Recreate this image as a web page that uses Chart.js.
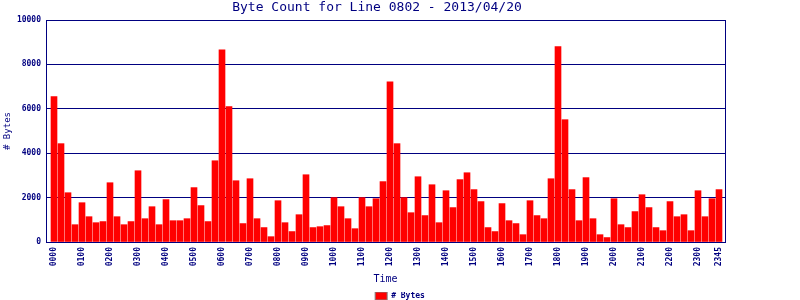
<!DOCTYPE html>
<html>
<head>
<meta charset="utf-8">
<script src="https://cdn.jsdelivr.net/npm/chart.js@4/dist/chart.umd.min.js"></script>
<style>
  html, body { margin: 0; padding: 0; background: #ffffff; }
  #wrap { width: 800px; height: 300px; }
</style>
</head>
<body>
<div id="wrap"><canvas id="c" width="800" height="300"></canvas></div>
<script>
const chartTitle = "Byte Count for Line 0802 - 2013/04/20";
const seriesName = "# Bytes";
const xTitle = "Time";
const yTitle = "# Bytes";

const timeLabels = [
  "0000","0015","0030","0045","0100","0115","0130","0145",
  "0200","0215","0230","0245","0300","0315","0330","0345",
  "0400","0415","0430","0445","0500","0515","0530","0545",
  "0600","0615","0630","0645","0700","0715","0730","0745",
  "0800","0815","0830","0845","0900","0915","0930","0945",
  "1000","1015","1030","1045","1100","1115","1130","1145",
  "1200","1215","1230","1245","1300","1315","1330","1345",
  "1400","1415","1430","1445","1500","1515","1530","1545",
  "1600","1615","1630","1645","1700","1715","1730","1745",
  "1800","1815","1830","1845","1900","1915","1930","1945",
  "2000","2015","2030","2045","2100","2115","2130","2145",
  "2200","2215","2230","2245","2300","2315","2330","2345"
];

const byteCounts = [
  6550, 4430, 2220,  780, 1770, 1140,  870,  920,
  2670, 1140,  780,  920, 3210, 1050, 1590,  780,
  1910,  960,  960, 1050, 2450, 1640,  920, 3660,
  8660, 6100, 2760,  830, 2850, 1050,  650,  240,
  1860,  870,  470, 1230, 3030,  650,  690,  740,
  2000, 1590, 1050,  600, 2000, 1590, 1950, 2720,
  7220, 4430, 2000, 1320, 2940, 1190, 2580,  870,
  2310, 1550, 2810, 3120, 2360, 1820,  650,  470,
  1730,  960,  830,  330, 1860, 1190, 1050, 2850,
  8800, 5510, 2360,  960, 2900, 1050,  330,  200,
  1950,  780,  650, 1370, 2130, 1550,  650,  510,
  1820, 1140, 1230,  510, 2310, 1140, 1950, 2360
];

const xTickLabels = [
  "0000","0100","0200","0300","0400","0500","0600","0700",
  "0800","0900","1000","1100","1200","1300","1400","1500",
  "1600","1700","1800","1900","2000","2100","2200","2300","2345"
];

const yTickValues = [0, 2000, 4000, 6000, 8000, 10000];

const NAVY = "#000080";
const MONO = "'DejaVu Sans Mono', 'Liberation Mono', monospace";

Chart.defaults.font.family = MONO;
Chart.defaults.color = NAVY;

const points = byteCounts.map((v, i) => ({ x: i, y: v }));

const shiftPlugin = {
  id: 'shiftBoxes',
  afterLayout(chart) {
    if (chart.titleBlock) {
      chart.titleBlock.left -= 23;
      chart.titleBlock.right -= 23;
    }
    if (chart.legend) {
      chart.legend.top += 10;
      chart.legend.bottom += 10;
    }
  }
};

new Chart(document.getElementById('c'), {
  type: 'bar',
  data: {
    datasets: [{
      label: seriesName,
      data: points,
      backgroundColor: '#ff0000',
      borderWidth: 0,
      barThickness: 6
    }]
  },
  options: {
    responsive: false,
    devicePixelRatio: 1,
    animation: false,
    layout: { padding: 0 },
    plugins: {
      title: {
        display: true,
        text: chartTitle,
        color: NAVY,
        font: { family: MONO, size: 13, weight: 'normal' },
        padding: { top: 0, bottom: 4.4 }
      },
      legend: {
        display: true,
        position: 'bottom',
        labels: {
          boxWidth: 12,
          boxHeight: 8,
          padding: 0,
          color: NAVY,
          font: { family: MONO, size: 8, weight: 'bold' },
          generateLabels(chart) {
            const items = Chart.defaults.plugins.legend.labels.generateLabels(chart);
            items.forEach(it => { it.strokeStyle = '#808080'; it.lineWidth = 1; });
            return items;
          }
        }
      },
      tooltip: { enabled: false }
    },
    scales: {
      x: {
        type: 'linear',
        offset: false,
        min: -1.143,
        max: 95.857,
        grid: { display: false, drawTicks: false, tickLength: 0 },
        border: { display: true, color: NAVY, width: 1 },
        ticks: {
          autoSkip: false,
          minRotation: 90,
          maxRotation: 90,
          padding: 5,
          color: NAVY,
          font: { family: MONO, size: 8, weight: 'bold' },
          callback: (v) => timeLabels[v] !== undefined ? timeLabels[v] : ''
        },
        afterBuildTicks: (axis) => {
          axis.ticks = xTickLabels.map(l => ({ value: timeLabels.indexOf(l) }));
        },
        title: {
          display: true,
          text: xTitle,
          color: NAVY,
          font: { family: MONO, size: 10, weight: 'normal' },
          padding: { top: 0, bottom: -3 }
        },
        afterFit: (axis) => { axis.height = 40; }
      },
      y: {
        type: 'linear',
        position: 'left',
        min: 0,
        max: 10000,
        grid: { display: true, color: NAVY, lineWidth: 1, drawTicks: false, tickLength: 0 },
        border: { display: true, color: NAVY, width: 1 },
        ticks: {
          padding: 5,
          color: NAVY,
          font: { family: MONO, size: 8, weight: 'bold' },
          callback: (v) => String(v)
        },
        afterBuildTicks: (axis) => {
          axis.ticks = yTickValues.map(v => ({ value: v }));
        },
        title: {
          display: true,
          text: yTitle,
          color: NAVY,
          font: { family: MONO, size: 9, weight: 'normal' },
          padding: { top: 2.2, bottom: 0 }
        },
        afterFit: (axis) => { axis.width = 46; }
      },
      y2: {
        type: 'linear',
        position: 'right',
        display: true,
        grid: { display: false, drawTicks: false },
        border: { display: true, color: NAVY, width: 1 },
        ticks: { display: false },
        afterFit: (axis) => { axis.width = 75; }
      }
    }
  },
  plugins: [shiftPlugin]
});
</script>
</body>
</html>
